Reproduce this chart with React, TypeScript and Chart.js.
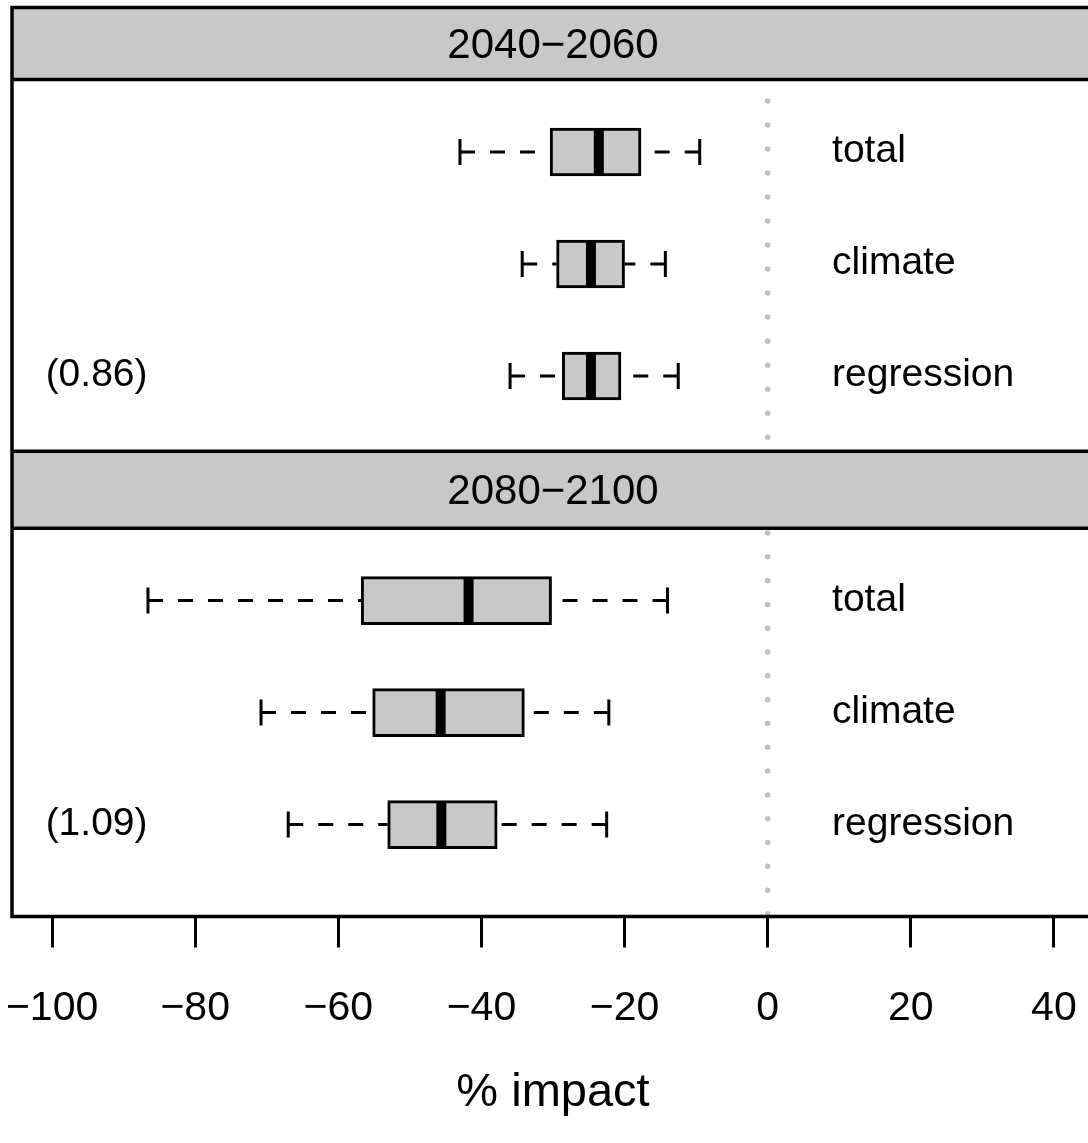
import React, { useEffect, useRef } from 'react';
import { Chart, registerables } from 'chart.js';

Chart.register(...registerables);

// ---------------- data ----------------
const periods = ['2040\u22122060', '2080\u22122100'];
const components = ['total', 'climate', 'regression'];
const ratioLabels = ['(0.86)', '(1.09)'];

// per period: [total, climate, regression]
const whiskerLow = [
  [-43.0, -34.3, -36.0],
  [-86.6, -70.8, -67.0],
];
const quartile1 = [
  [-30.4, -29.5, -28.7],
  [-56.8, -55.2, -53.1],
];
const medians = [
  [-23.6, -24.7, -24.7],
  [-41.8, -45.7, -45.6],
];
const quartile3 = [
  [-17.7, -20.0, -20.5],
  [-30.2, -34.0, -37.8],
];
const whiskerHigh = [
  [-9.5, -14.3, -12.5],
  [-14.0, -22.2, -22.5],
];

const xTicks = [-100, -80, -60, -40, -20, 0, 20, 40];
const X_MIN = -105.6;
const X_MAX = 45.6;

// ---------------- layout (row units on the y scale) ----------------
const Y_MAX = 8.116;
const headerTop = [0, 3.963];
const headerBottom = [0.643, 4.65];
const bodyBottom = [3.963, Y_MAX];
const rowStart = [1.29, 5.295];
const dotPhase = [21.5, 4.7];
const dotGap = [24, 23.8];
const RIGHT_LABEL_X = 9;
const LEFT_LABEL_X = -100.9;

const FONT = '"Liberation Sans", Arial, Helvetica, sans-serif';
const GRAY = '#c8c8c8';

const panelPlugin = {
  id: 'panelPlugin',
  beforeDatasetsDraw(chart: any) {
    const { ctx, chartArea: a, scales } = chart;
    const x = scales.x;
    const y = scales.y;
    ctx.save();
    ctx.fillStyle = GRAY;
    headerTop.forEach((t, i) => {
      const y0 = y.getPixelForValue(t);
      const y1 = y.getPixelForValue(headerBottom[i]);
      ctx.fillRect(a.left, y0, a.right - a.left, y1 - y0);
    });
    const x0 = x.getPixelForValue(0);
    ctx.strokeStyle = '#c0c0c0';
    ctx.lineWidth = 5.5;
    ctx.lineCap = 'round';
    headerBottom.forEach((hb, i) => {
      ctx.setLineDash([0.01, dotGap[i]]);
      const top = y.getPixelForValue(hb) + dotPhase[i];
      const bot = y.getPixelForValue(bodyBottom[i]);
      ctx.beginPath();
      ctx.moveTo(x0, top);
      ctx.lineTo(x0, bot);
      ctx.stroke();
    });
    ctx.restore();
  },
  afterDatasetsDraw(chart: any) {
    const { ctx, chartArea: a, scales } = chart;
    const x = scales.x;
    const y = scales.y;
    ctx.save();
    ctx.strokeStyle = '#000';
    ctx.fillStyle = '#000';
    ctx.lineCap = 'butt';
    periods.forEach((_, p) => {
      components.forEach((_, c) => {
        const yc = y.getPixelForValue(rowStart[p] + c);
        const xl = x.getPixelForValue(whiskerLow[p][c]);
        const x1 = x.getPixelForValue(quartile1[p][c]);
        const xm = x.getPixelForValue(medians[p][c]);
        const x3 = x.getPixelForValue(quartile3[p][c]);
        const xh = x.getPixelForValue(whiskerHigh[p][c]);
        ctx.lineWidth = 3;
        ctx.setLineDash([15, 15]);
        ctx.beginPath();
        ctx.moveTo(xl, yc);
        ctx.lineTo(x1, yc);
        ctx.stroke();
        ctx.beginPath();
        ctx.moveTo(xh, yc);
        ctx.lineTo(x3, yc);
        ctx.stroke();
        ctx.setLineDash([]);
        ctx.beginPath();
        ctx.moveTo(xl, yc - 13);
        ctx.lineTo(xl, yc + 13);
        ctx.moveTo(xh, yc - 13);
        ctx.lineTo(xh, yc + 13);
        ctx.stroke();
        ctx.fillRect(xm - 5, yc - 23.5, 10, 47);
      });
    });

    // frame and strip borders
    ctx.setLineDash([]);
    ctx.lineWidth = 3.5;
    ctx.strokeRect(a.left, a.top, a.right - a.left, a.bottom - a.top);
    [headerBottom[0], headerTop[1], headerBottom[1]].forEach((v) => {
      const py = y.getPixelForValue(v);
      ctx.beginPath();
      ctx.moveTo(a.left, py);
      ctx.lineTo(a.right, py);
      ctx.stroke();
    });

    // texts
    ctx.textBaseline = 'alphabetic';
    periods.forEach((label, p) => {
      const yt = y.getPixelForValue(headerTop[p]);
      const yb = y.getPixelForValue(headerBottom[p]);
      ctx.font = `42px ${FONT}`;
      ctx.textAlign = 'center';
      ctx.fillText(label, (a.left + a.right) / 2, (yt + yb) / 2 + 14.5);
      ctx.font = `39px ${FONT}`;
      ctx.textAlign = 'left';
      components.forEach((name, c) => {
        const yc = y.getPixelForValue(rowStart[p] + c);
        ctx.fillText(name, x.getPixelForValue(RIGHT_LABEL_X), yc + 10.5);
      });
      const yr = y.getPixelForValue(rowStart[p] + components.length - 1);
      ctx.fillText(ratioLabels[p], x.getPixelForValue(LEFT_LABEL_X), yr + 10.5);
    });
    ctx.restore();
  },
};

export default function App() {
  const canvasRef = useRef<HTMLCanvasElement | null>(null);

  useEffect(() => {
    if (!canvasRef.current) return;
    const points = periods.flatMap((_, p) =>
      components.map((_, c) => ({
        x: [quartile1[p][c], quartile3[p][c]],
        y: rowStart[p] + c,
      }))
    );
    const chart = new Chart(canvasRef.current, {
      type: 'bar',
      data: {
        datasets: [
          {
            data: points as any,
            backgroundColor: GRAY,
            borderColor: '#000',
            borderWidth: 3,
            borderSkipped: false,
            barThickness: 48,
          } as any,
        ],
      },
      options: {
        indexAxis: 'y',
        animation: false,
        responsive: false,
        devicePixelRatio: 1,
        layout: { padding: { left: 12, right: 6, top: 7.5, bottom: 0 } },
        plugins: {
          legend: { display: false },
          tooltip: { enabled: false },
          title: { display: false },
        },
        scales: {
          x: {
            type: 'linear',
            min: X_MIN,
            max: X_MAX,
            offset: false,
            afterBuildTicks: (s: any) => {
              s.ticks = xTicks.map((v) => ({ value: v }));
            },
            afterFit: (s: any) => {
              s.height = 226.5;
              s.paddingLeft = 0;
              s.paddingRight = 0;
            },
            grid: {
              drawOnChartArea: false,
              drawTicks: true,
              tickLength: 31,
              color: '#000',
              tickColor: '#000',
              lineWidth: 3,
              offset: false,
            },
            border: { display: false },
            ticks: {
              autoSkip: false,
              maxRotation: 0,
              minRotation: 0,
              padding: 37,
              color: '#000',
              font: { family: FONT, size: 41 },
              callback: (v: any) => String(v).replace('-', '\u2212'),
            },
            title: {
              display: true,
              text: '% impact',
              color: '#000',
              font: { family: FONT, size: 47 },
              padding: { top: 22, bottom: 22 },
            },
          },
          y: {
            type: 'linear',
            min: 0,
            max: Y_MAX,
            reverse: true,
            offset: false,
            display: false,
            grid: { offset: false },
          },
        },
      },
      plugins: [panelPlugin],
    });
    return () => chart.destroy();
  }, []);

  return (
    <div
      style={{
        position: 'fixed',
        left: 0,
        top: 0,
        width: 1088,
        height: 1143,
        overflow: 'hidden',
        background: '#fff',
      }}
    >
      <canvas ref={canvasRef} width={1100} height={1143} style={{ display: 'block', width: 1100, height: 1143 }} />
    </div>
  );
}
